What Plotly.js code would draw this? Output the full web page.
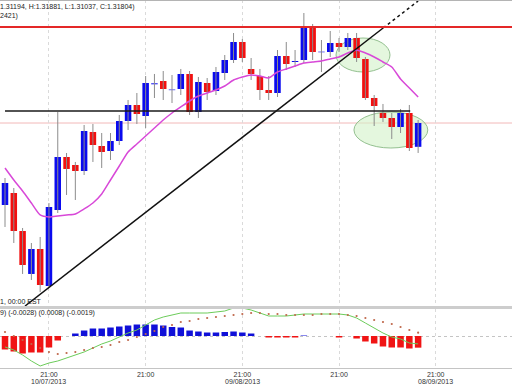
<!DOCTYPE html>
<html><head><meta charset="utf-8">
<script src="https://cdn.plot.ly/plotly-3.0.1.min.js"></script>
<style>html,body{margin:0;padding:0;background:#fff;overflow:hidden}#chart{width:512px;height:384px}</style>
</head><body><div id="chart"></div>
<script>
// Daily candles (price)
const openP = [1.29705,1.30012,1.29039,1.27939,1.28579,1.27631,1.29577,1.30934,1.30729,1.30575,
1.31574,1.31215,1.31087,1.31343,1.31855,1.32265,1.31983,1.32795,1.32879,1.32645,
1.32675,1.33059,1.32086,1.32828,1.32623,1.33084,1.33417,1.33878,1.33187,1.33007,
1.32649,1.32572,1.33519,1.33366,1.33417,1.34236,1.33615,1.33622,1.33852,1.33750,
1.33980,1.33443,1.32444,1.32060,1.31932,1.31702,1.32060,1.31194];
const highP = [1.30396,1.30140,1.29116,1.28732,1.28886,1.29756,1.32086,1.31036,1.30806,1.31753,
1.31779,1.31548,1.31548,1.32009,1.32393,1.32572,1.33007,1.33059,1.33135,1.33033,
1.33187,1.33135,1.32982,1.32956,1.33238,1.33545,1.34108,1.33955,1.33468,1.33187,
1.33007,1.33673,1.33878,1.33673,1.34620,1.34339,1.33929,1.34159,1.33980,1.34108,
1.34108,1.33494,1.32521,1.32291,1.32060,1.32163,1.32265,1.31881];
const lowP = [1.29142,1.28732,1.27939,1.27785,1.27478,1.27580,1.29500,1.29961,1.29833,1.30473,
1.30806,1.30652,1.30857,1.31241,1.31625,1.31779,1.31676,1.32444,1.32393,1.32316,
1.32521,1.32009,1.31932,1.32393,1.32521,1.32905,1.33340,1.33366,1.32905,1.32393,
1.32393,1.32470,1.33161,1.33238,1.33340,1.33417,1.33110,1.33494,1.33622,1.33673,
1.33366,1.32393,1.31727,1.31830,1.31395,1.31548,1.31087,1.31037];
const closeP = [1.30268,1.29039,1.28169,1.28579,1.27657,1.29654,1.30934,1.30627,1.30575,1.31599,
1.31241,1.31062,1.31343,1.31855,1.32265,1.32035,1.32828,1.32820,1.32675,1.32660,
1.33059,1.32086,1.32854,1.32598,1.33110,1.33417,1.33878,1.33468,1.33059,1.32649,
1.32572,1.33519,1.33315,1.33391,1.34236,1.33622,1.33630,1.33852,1.33750,1.33980,
1.33468,1.32444,1.32239,1.31932,1.31702,1.32060,1.31164,1.31804];
const maValues = [1.30652,1.30345,1.30063,1.29756,1.29449,1.29398,1.29423,1.29449,1.29475,1.29603,
1.29756,1.29987,1.30345,1.30703,1.31062,1.31267,1.31471,1.31676,1.31881,1.32060,
1.32214,1.32367,1.32495,1.32572,1.32649,1.32751,1.32905,1.32982,1.33033,1.33007,
1.32956,1.33110,1.33187,1.33263,1.33340,1.33366,1.33391,1.33443,1.33494,1.33596,
1.33673,1.33596,1.33494,1.33366,1.33238,1.32931,1.32700,1.32470];
// MACD panel
const macdLine = [-0.00264,-0.00336,-0.00456,-0.00600,-0.00720,-0.00648,-0.00600,-0.00528,-0.00456,-0.00384,
-0.00288,-0.00192,-0.00120,-0.00024,0.00072,0.00144,0.00264,0.00384,0.00456,0.00504,
0.00552,0.00552,0.00552,0.00552,0.00576,0.00600,0.00672,0.00672,0.00624,0.00552,
0.00480,0.00480,0.00480,0.00504,0.00528,0.00528,0.00528,0.00528,0.00528,0.00504,
0.00432,0.00312,0.00192,0.00072,-0.00024,-0.00072,-0.00168,-0.00190];
const signalLine = [0.00096,0.00000,-0.00096,-0.00192,-0.00288,-0.00384,-0.00432,-0.00408,-0.00384,-0.00336,
-0.00288,-0.00264,-0.00216,-0.00144,-0.00096,-0.00024,0.00048,0.00120,0.00216,0.00264,
0.00336,0.00360,0.00408,0.00432,0.00456,0.00480,0.00504,0.00528,0.00552,0.00552,
0.00528,0.00528,0.00504,0.00504,0.00504,0.00504,0.00528,0.00528,0.00528,0.00504,
0.00480,0.00432,0.00384,0.00336,0.00288,0.00216,0.00144,0.00080];
const macdHist = [-0.00324,-0.00372,-0.00420,-0.00396,-0.00396,-0.00276,-0.00108,0,0.00060,0.00132,
0.00180,0.00180,0.00204,0.00228,0.00252,0.00276,0.00276,0.00276,0.00252,0.00216,
0.00204,0.00132,0.00108,0.00084,0.00084,0.00096,0.00108,0.00084,0.00060,0,
-0.00036,-0.00036,-0.00036,-0.00036,0.00012,0,0,0,-0.00036,0,
-0.00060,-0.00132,-0.00180,-0.00252,-0.00276,-0.00276,-0.00300,-0.00280];
// Axis ticks
const tickVals = [5,16,27,38,49];
const tickText = ['21:00','21:00','21:00','21:00','21:00'];
const dateVals = [5,27,49];
const dateText = ['10/07/2013','09/08/2013','08/09/2013'];
// Drawn studies
const levelRed = 1.34262, levelLast = 1.31804;
const blackLineX = [0, 46.1], blackLineY = [1.32111, 1.32111];
const trendX = [2.28, 43.02], trendY = [1.27119, 1.34236];
const trendExtX = [43.02, 47.0], trendExtY = [1.34236, 1.34927];
const ellipseX0 = [37.66, 39.7], ellipseX1 = [43.8, 48.1];
const ellipseY0 = [1.33110, 1.31164], ellipseY1 = [1.33980, 1.32086];
const headerText = '1.31194, H:1.31881, L:1.31037, C:1.31804)';
const headerText2 = '2421)';
const timeText = '1, 00:00 EST';
const macdText = '9) (-0.0028) (0.0008) (-0.0019)';

const idx = openP.map((_, i) => i);
const BLUE = '#0b0bef', RED = '#f21010';
const wx = [], wy = [];
idx.forEach(i => { wx.push(i, i, null); wy.push(lowP[i], highP[i], null); });
const bodyBase = idx.map(i => Math.min(openP[i], closeP[i]));
const bodyH = idx.map(i => Math.max(Math.abs(closeP[i] - openP[i]), 0.00012));
const bodyCol = idx.map(i => closeP[i] >= openP[i] ? BLUE : RED);
const histCol = macdHist.map(v => v >= 0 ? '#1010d8' : '#f01414');

const traces = [
  {x: wx, y: wy, type: 'scatter', mode: 'lines', line: {color: '#8c8c8c', width: 1}, hoverinfo: 'skip'},
  {x: idx, y: bodyH, base: bodyBase, type: 'bar', width: 0.74, marker: {color: bodyCol, line: {width: 0}}},
  {x: idx, y: maValues, type: 'scatter', mode: 'lines', line: {color: '#d848d8', width: 1.5, shape: 'spline', smoothing: 0.6}},
  {x: trendX, y: trendY, type: 'scatter', mode: 'lines', line: {color: '#111', width: 1.5}},
  {x: trendExtX, y: trendExtY, type: 'scatter', mode: 'lines', line: {color: '#111', width: 1.5, dash: 'dot'}},
  {x: blackLineX, y: blackLineY, type: 'scatter', mode: 'lines', line: {color: '#1a1a1a', width: 1.5}},
  {x: idx, y: macdHist, type: 'bar', width: 0.74, yaxis: 'y2', marker: {color: histCol, line: {width: 0}}},
  {x: idx, y: macdLine, type: 'scatter', mode: 'lines', yaxis: 'y2', line: {color: '#6ccc5a', width: 1}},
  {x: idx, y: signalLine, type: 'scatter', mode: 'markers', yaxis: 'y2', marker: {color: '#c0684c', size: 2.2}}
];

const shapes = [
  {type: 'line', xref: 'paper', yref: 'paper', x0: 0, x1: 1, y0: 0.9995, y1: 0.9995, line: {color: '#b4b4b4', width: 1.5}},
  {type: 'rect', xref: 'paper', yref: 'paper', x0: 0, x1: 1, y0: 0.1603, y1: 0.1685, fillcolor: '#cdcdcd', line: {width: 0}},
  {type: 'line', xref: 'paper', yref: 'y', x0: 0, x1: 1, y0: levelLast, y1: levelLast, line: {color: '#f2b8b8', width: 1}, layer: 'below'},
  {type: 'line', xref: 'paper', yref: 'y', x0: 0, x1: 1, y0: levelRed, y1: levelRed, line: {color: '#e42828', width: 2}}
];
ellipseX0.forEach((x0, k) => shapes.push({type: 'circle', xref: 'x', yref: 'y', x0: x0, x1: ellipseX1[k], y0: ellipseY0[k], y1: ellipseY1[k],
  fillcolor: 'rgba(210,242,200,0.6)', line: {color: '#94c090', width: 1}, layer: 'below'}));

const annFont = {family: 'Liberation Sans, Arial, sans-serif', size: 7, color: '#222'};
const annotations = [
  {text: headerText, xref: 'paper', yref: 'paper', x: 0, y: 1, xanchor: 'left', yanchor: 'top', xshift: -2, yshift: -1, showarrow: false, font: annFont},
  {text: headerText2, xref: 'paper', yref: 'paper', x: 0, y: 1, xanchor: 'left', yanchor: 'top', xshift: -2, yshift: -10, showarrow: false, font: annFont},
  {text: timeText, xref: 'paper', yref: 'paper', x: 0, y: 0.182, xanchor: 'left', yanchor: 'middle', xshift: -2, showarrow: false, font: annFont},
  {text: macdText, xref: 'paper', yref: 'paper', x: 0, y: 0.1495, xanchor: 'left', yanchor: 'middle', xshift: -2, showarrow: false, font: annFont}
];
dateVals.forEach((v, k) => annotations.push({text: dateText[k], xref: 'x', yref: 'paper', x: v, y: 0, xanchor: 'center', yanchor: 'top',
  yshift: -9, showarrow: false, borderpad: 0, font: {family: 'Liberation Sans, Arial, sans-serif', size: 7, color: '#333'}}));

const layout = {
  width: 512, height: 384,
  margin: {l: 0, r: 0, t: 0, b: 16, pad: 0},
  paper_bgcolor: '#fff', plot_bgcolor: '#fff',
  showlegend: false, barmode: 'overlay',
  font: {family: 'Liberation Sans, Arial, sans-serif', size: 7, color: '#333'},
  xaxis: {range: [-0.57, 57.68], anchor: 'y2', tickmode: 'array', tickvals: tickVals, ticktext: tickText,
    showgrid: true, gridcolor: '#dadada', griddash: 'dot', gridwidth: 1, zeroline: false,
    showline: true, linecolor: '#c4c4c4', linewidth: 1, ticks: '', ticklabelstandoff: 0, tickfont: {size: 7, color: '#333'}, fixedrange: true},
  yaxis: {domain: [0.1685, 1], range: [1.27119, 1.34953], showticklabels: false, showgrid: false, zeroline: false, fixedrange: true},
  yaxis2: {domain: [0, 0.1603], range: [-0.00768, 0.00648], showticklabels: false, tickmode: 'array', tickvals: [0],
    showgrid: true, griddash: 'dot', gridcolor: '#c4c4c4', zeroline: false, fixedrange: true},
  shapes: shapes, annotations: annotations
};

Plotly.newPlot('chart', traces, layout, {staticPlot: true, displayModeBar: false});
</script></body></html>
